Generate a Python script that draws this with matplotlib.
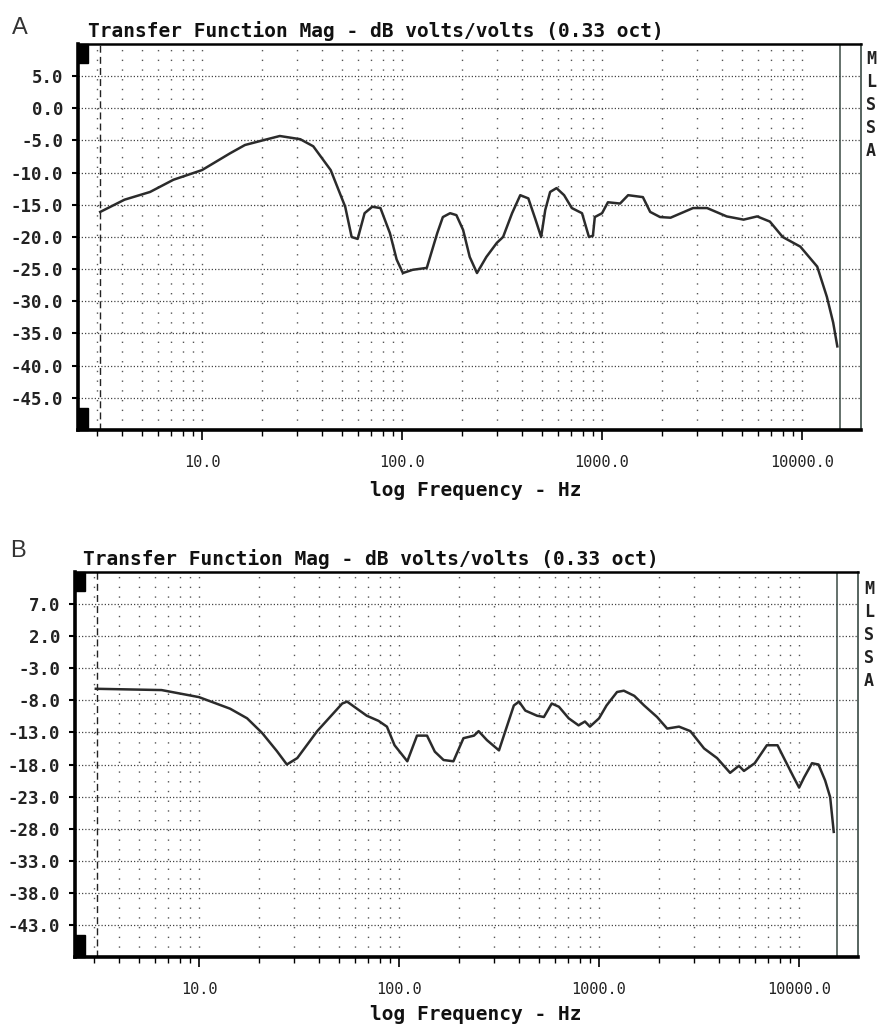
import matplotlib
matplotlib.use("Agg")
import matplotlib.pyplot as plt
from matplotlib.patches import Rectangle

MONO = ["DejaVu Sans Mono", "DejaVu Sans"]

TITLE = "Transfer Function Mag - dB volts/volts (0.33 oct)"
XLABEL = "log Frequency - Hz"
SIDE_TEXT = "M\nL\nS\nS\nA"

XLIM = (2.4, 19700)
XTICKS = [10, 100, 1000, 10000]
XTICK_LABELS = ["10.0", "100.0", "1000.0", "10000.0"]
F_START = 3.1      # dashed cursor
F_END = 15500      # solid cursor

# panel A
A_FREQ = [3.1, 4.1, 5.5, 7.2, 10, 13.8, 16.4, 20, 24.5, 31, 36, 44, 52, 56, 60,
          65, 71, 78, 87, 94, 101, 113, 133, 150, 160, 174, 187, 202, 218, 237,
          264, 298, 320, 355, 390, 428, 465, 496, 520, 550, 592, 646, 706, 794,
          860, 900, 920, 1000, 1070, 1230, 1350, 1600, 1740, 1950, 2200, 2850,
          3350, 4200, 5100, 5960, 6900, 8000, 9800, 11900, 13300, 14300, 15000]
A_DB = [-16.1, -14.2, -13.0, -11.1, -9.6, -7.0, -5.7, -5.0, -4.3, -4.8, -5.9,
        -9.6, -15.3, -20.0, -20.3, -16.3, -15.3, -15.5, -19.4, -23.5, -25.6,
        -25.1, -24.8, -19.4, -16.9, -16.3, -16.6, -18.9, -23.1, -25.6, -23.1,
        -20.9, -20.0, -16.3, -13.5, -14.0, -17.3, -20.0, -15.8, -13.0, -12.4,
        -13.5, -15.5, -16.3, -20.0, -19.8, -16.9, -16.3, -14.6, -14.8, -13.5,
        -13.8, -16.1, -16.9, -17.0, -15.5, -15.5, -16.8, -17.3, -16.8, -17.6,
        -20.0, -21.5, -24.6, -29.3, -33.3, -37.0]
A_YTICKS = [5, 0, -5, -10, -15, -20, -25, -30, -35, -40, -45]
A_YLIM = (-50, 10)

# panel B
B_FREQ = [3.05, 6.5, 10, 14.3, 17.4, 20.7, 24.5, 27.5, 31, 39, 52, 55, 69, 79,
          87, 95, 110, 123, 138, 151, 167, 187, 210, 237, 250, 275, 316, 340,
          375, 398, 428, 490, 530, 580, 630, 705, 790, 850, 900, 1000, 1090,
          1230, 1330, 1500, 1680, 1950, 2190, 2510, 2860, 3350, 3890, 4520,
          5000, 5300, 6000, 6500, 6900, 7800, 8400, 9400, 10000, 10600, 11600,
          12500, 13500, 14300, 14900]
B_DB = [-6.2, -6.4, -7.5, -9.3, -10.8, -13.1, -15.9, -18.0, -17.0, -12.8, -8.5,
        -8.2, -10.4, -11.2, -12.1, -15.0, -17.5, -13.5, -13.5, -16.0, -17.3,
        -17.5, -13.9, -13.5, -12.8, -14.2, -15.8, -12.8, -8.8, -8.2, -9.6,
        -10.4, -10.6, -8.5, -9.0, -10.8, -11.9, -11.3, -12.1, -10.8, -8.8,
        -6.7, -6.5, -7.3, -8.8, -10.6, -12.4, -12.1, -12.8, -15.5, -17.0,
        -19.3, -18.2, -19.0, -17.8, -16.2, -15.0, -15.0, -17.0, -20.0, -21.6,
        -20.0, -17.8, -18.0, -20.5, -23.1, -28.5]
B_YTICKS = [7, 2, -3, -8, -13, -18, -23, -28, -33, -38, -43]
B_YLIM = (-48, 12)

W, H = 880, 1033


def draw_panel(fig, rect, freq, db, yticks, ylim, letter, title_xy, letter_xy,
               xlabel_y, side_xy):
    l, t, r, b = rect
    ax = fig.add_axes([l / W, 1 - b / H, (r - l) / W, (b - t) / H])
    ax.set_xscale("log")
    ax.set_xlim(*XLIM)
    ax.set_ylim(*ylim)

    minors = [m * 10 ** d for d in range(0, 5) for m in range(2, 10)]
    minors = [f for f in minors if XLIM[0] < f < 11000]
    ax.set_xticks(XTICKS)
    ax.set_xticklabels(XTICK_LABELS, family=MONO, fontsize=11, color="#222")
    ax.set_xticks(minors, minor=True)
    ax.set_xticklabels([], minor=True)
    ax.set_yticks(yticks)
    ax.set_yticklabels([f"{v:.1f}" for v in yticks], family=MONO, fontsize=12.5,
                       fontweight="bold", color="#222")

    ax.tick_params(axis="x", which="major", direction="out", length=7, width=1.2,
                   pad=11)
    ax.tick_params(axis="x", which="minor", direction="out", length=4, width=1.0)
    ax.tick_params(axis="y", which="major", direction="out", length=4.5,
                   width=1.5, pad=6)
    ax.tick_params(top=False, right=False)

    # dotted grid: dense horizontal, sparse vertical
    ax.grid(axis="y", which="major", color="#444", lw=0.9, ls=(0, (1, 1.6)))
    ax.grid(axis="x", which="both", color="#555", lw=1.0, ls=(0, (1, 6)))

    ax.plot(freq, db, color="#2b2b2b", lw=1.8, zorder=3)
    ax.axvline(F_START, color="#222", lw=1.0, ls=(0, (5, 3)), zorder=2)
    ax.axvline(F_END, color="#3a4a44", lw=1.1, zorder=2)

    for side, w in (("left", 2.6), ("bottom", 2.6), ("top", 1.8), ("right", 1.2)):
        ax.spines[side].set_linewidth(w)
    ax.spines["right"].set_color("#3a4a44")

    # black corner markers
    ax.add_patch(Rectangle((0, 0.95), 0.013, 0.05, transform=ax.transAxes,
                           color="black", clip_on=False, zorder=4))
    ax.add_patch(Rectangle((0, 0), 0.013, 0.057, transform=ax.transAxes,
                           color="black", clip_on=False, zorder=4))

    fig.text(title_xy[0] / W, 1 - title_xy[1] / H, TITLE, family=MONO,
             fontsize=14, fontweight="bold", va="baseline", ha="left",
             color="#111")
    fig.text(letter_xy[0] / W, 1 - letter_xy[1] / H, letter,
             family=["Liberation Sans", "DejaVu Sans"], fontsize=17,
             va="baseline", ha="left", color="#333")
    fig.text(476 / W, 1 - xlabel_y / H, XLABEL, family=MONO, fontsize=14,
             fontweight="bold", va="center", ha="center", color="#111")
    fig.text(side_xy[0] / W, 1 - side_xy[1] / H, SIDE_TEXT, family=MONO,
             fontsize=12, fontweight="bold", va="top", ha="left",
             linespacing=1.35, color="#222")
    return ax


fig = plt.figure(figsize=(W / 100, H / 100), dpi=100)
fig.patch.set_facecolor("white")

draw_panel(fig, (78, 44, 861, 430), A_FREQ, A_DB, A_YTICKS, A_YLIM, "A",
           (88, 37), (12, 34), 490, (866, 50))
draw_panel(fig, (75, 572, 858, 957), B_FREQ, B_DB, B_YTICKS, B_YLIM, "B",
           (83, 565), (10, 557), 1014, (864, 580))

fig.savefig("out.png", dpi=100, facecolor="white")
